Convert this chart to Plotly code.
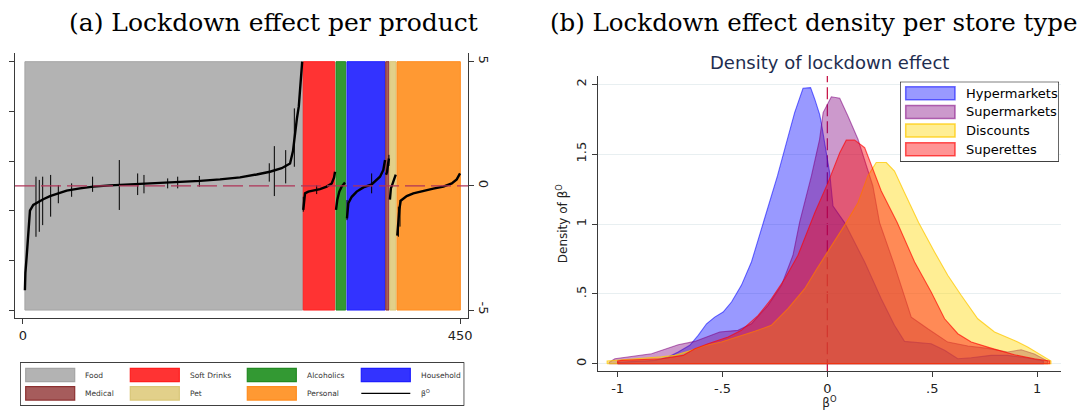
import plotly.graph_objects as go

# page body has an 8px margin: the figure is sized to the visible area and
# reference pixel positions are mapped with that offset
OFF = 8
W, H = 1089 - OFF, 410 - OFF

# ---------------- Panel (a): lockdown effect per product ----------------
categories = ["Food", "Soft Drinks", "Alcoholics", "Household", "Medical", "Pet", "Personal"]
cat_start = [2.0, 288.6, 322.3, 333.6, 373.5, 377.6, 385.1]
cat_end = [288.0, 321.0, 332.3, 372.8, 376.9, 384.1, 450.3]
cat_fill = ["#b3b3b3", "#ff3333", "#339933", "#3333ff", "#a65c5c", "#e2d08a", "#ff9933"]
cat_edge = ["#a4a4a4", "#ff1f1f", "#238a23", "#1f1fff", "#8c3030", "#d9c677", "#ff8c1f"]

food_idx = [2, 2.5, 3.8, 5.5, 7.2, 10.6, 15.8, 20.9, 27.8, 36.4, 45, 58.7, 72.4, 89.6, 113.6,
            137.7, 161.7, 182.3, 202.9, 223.5, 240.6, 254.3, 266.4, 275, 278, 280, 282, 284, 286, 287.5]
food_val = [-4.2, -3.5, -2.85, -1.9, -1.0, -0.77, -0.64, -0.54, -0.41, -0.3, -0.19, -0.1, -0.03, 0.02, 0.06,
            0.1, 0.14, 0.2, 0.26, 0.34, 0.46, 0.57, 0.71, 0.9, 1.4, 2.1, 2.7, 3.2, 4.2, 5.0]
soft_idx = [288.6, 290.4, 293.8, 299, 305.8, 312.7, 317.9, 320.3, 321.3]
soft_val = [-0.97, -0.3, -0.23, -0.19, -0.13, -0.03, 0.1, 0.34, 0.57]
alc_idx = [322.3, 323.6, 325.7, 328.1, 331.6]
alc_val = [-0.97, -0.57, -0.23, -0.03, 0.14]
house_idx = [333.6, 335, 338.5, 343.6, 350.5, 359, 367.6, 371, 372.8]
house_val = [-1.31, -0.7, -0.44, -0.23, -0.06, 0.06, 0.37, 0.64, 1.04]
med_idx = [373.8, 374.8, 375.8, 376.8]
med_val = [0.45, 0.55, 0.85, 1.1]
pet_idx = [377.8, 378.8, 379.8, 380.8, 381.8, 382.8, 383.8]
pet_val = [-0.55, -0.1, 0.0, 0.1, 0.2, 0.3, 0.45]
pers_idx = [385.4, 386.5, 387.5, 388.9, 391.6, 395.1, 401.9, 412.2, 422.5, 432.8, 441.5, 446.6, 450]
pers_val = [-2.0, -1.3, -0.95, -0.6, -0.5, -0.41, -0.3, -0.19, -0.11, -0.03, 0.1, 0.26, 0.5]

# confidence-interval spikes (product index, low, high)
ci_idx = [13.4, 16.8, 20.3, 28.5, 36.4, 50.1, 71.7, 99.2, 118.1, 124.6, 149, 159.3, 181.6,
          253.6, 258.8, 270.5, 279.4, 288.6, 302.4, 333.6, 359, 376.8, 386.5, 388.2]
ci_lo = [-2.05, -1.85, -1.58, -1.24, -0.7, -0.44, -0.24, -0.97, -0.37, -0.3, -0.1, -0.1, -0.03,
         0.17, -0.41, 0.1, 0.77, -1.04, -0.33, -1.38, -0.3, 0.8, -2.05, -1.64]
ci_hi = [0.37, 0.24, 0.37, 0.44, 0.03, 0.1, 0.37, 1.04, 0.5, 0.44, 0.3, 0.37, 0.4,
         0.91, 1.6, 1.44, 3.12, -0.44, 0.03, -0.57, 0.5, 1.25, -0.84, -0.57]

# ---------------- Panel (b): density per store type ----------------
store_types = ["Hypermarkets", "Supermarkets", "Discounts", "Superettes"]
hyper_x = [-1.0, -0.822, -0.759, -0.711, -0.656, -0.616, -0.576, -0.537, -0.497, -0.457, -0.41, -0.362,
           -0.307, -0.283, -0.238, -0.195, -0.156, -0.116, -0.08, -0.06, -0.037, -0.029, 0.011, 0.027,
           0.082, 0.178, 0.257, 0.32, 0.368, 0.495, 0.559, 0.622, 0.686, 0.78, 0.86, 0.955, 1.03]
hyper_y = [0.01, 0.024, 0.048, 0.084, 0.132, 0.203, 0.286, 0.334, 0.37, 0.442, 0.561, 0.728,
           1.0, 1.105, 1.344, 1.582, 1.797, 1.971, 1.976, 1.893, 1.785, 1.725, 1.367, 1.129,
           1.01, 0.728, 0.465, 0.275, 0.16, 0.143, 0.096, 0.036, 0.043, 0.06, 0.06, 0.041, 0.02]
super_x = [-1.04, -1.013, -0.838, -0.711, -0.632, -0.513, -0.426, -0.362, -0.283, -0.219, -0.164, -0.132,
           -0.116, -0.076, -0.037, -0.02, 0.019, 0.059, 0.098, 0.146, 0.217, 0.249, 0.32, 0.4, 0.479,
           0.574, 0.67, 0.765, 0.86, 0.924, 0.987, 1.05]
super_y = [0.01, 0.036, 0.072, 0.136, 0.16, 0.227, 0.239, 0.286, 0.418, 0.561, 0.776, 1.014,
           1.105, 1.344, 1.606, 1.797, 1.91, 1.90, 1.773, 1.606, 1.272, 1.01, 0.704, 0.334, 0.25,
           0.155, 0.127, 0.11, 0.084, 0.1, 0.07, 0.02]
disc_x = [-1.05, -0.79, -0.727, -0.648, -0.584, -0.505, -0.426, -0.346, -0.267, -0.188, -0.108, -0.05,
          0.09, 0.146, 0.193, 0.233, 0.281, 0.32, 0.368, 0.435, 0.511, 0.574, 0.638, 0.717, 0.797,
          0.892, 0.955, 1.011, 1.066]
disc_y = [0.02, 0.05, 0.06, 0.096, 0.131, 0.155, 0.191, 0.232, 0.275, 0.394, 0.537, 0.68,
          1.01, 1.152, 1.344, 1.44, 1.44, 1.379, 1.224, 1.01, 0.8, 0.633, 0.49, 0.322, 0.227,
          0.167, 0.12, 0.072, 0.02]
supt_x = [-1.0, -0.98, -0.79, -0.688, -0.632, -0.569, -0.473, -0.41, -0.33, -0.267, -0.203, -0.14,
          -0.076, -0.06, 0.003, 0.059, 0.09, 0.13, 0.178, 0.2, 0.257, 0.333, 0.416, 0.495, 0.559,
          0.622, 0.686, 0.78, 0.892, 0.987, 1.06]
supt_y = [0.02, 0.024, 0.036, 0.06, 0.107, 0.143, 0.191, 0.239, 0.346, 0.465, 0.608, 0.776,
          1.014, 1.08, 1.296, 1.51, 1.6, 1.6, 1.546, 1.463, 1.236, 1.01, 0.728, 0.513, 0.322,
          0.215, 0.155, 0.112, 0.064, 0.036, 0.02]
store_fill = ["rgba(0,0,255,0.40)", "rgba(128,0,128,0.40)", "rgba(255,215,0,0.42)", "rgba(255,0,0,0.42)"]
store_line = ["rgba(0,0,255,0.55)", "rgba(128,0,128,0.55)", "rgba(255,200,0,0.75)", "rgba(255,0,0,0.65)"]

# ---------------- helpers ----------------
def fx(px):
    return (px - OFF) / W


def fy(py):
    return (H - (py - OFF)) / H


AX = "#3a3a3a"
fig = go.Figure()

# ---- panel (a) bands
band_lo, band_hi = -5, 5
fig.add_trace(go.Bar(
    x=[(s + e) / 2 for s, e in zip(cat_start, cat_end)],
    y=[band_hi - band_lo] * len(categories),
    base=[band_lo] * len(categories),
    width=[e - s for s, e in zip(cat_start, cat_end)],
    marker=dict(color=cat_fill, line=dict(color=cat_edge, width=1)),
    xaxis="x", yaxis="y", hoverinfo="skip", showlegend=False))

# ---- CI spikes (drawn on the right-hand value axis, same range)
sx, sy = [], []
for i, lo, hi in zip(ci_idx, ci_lo, ci_hi):
    sx += [i, i, None]
    sy += [lo, hi, None]
fig.add_trace(go.Scatter(x=sx, y=sy, mode="lines", line=dict(color="black", width=1),
                         xaxis="x", yaxis="y3", hoverinfo="skip", showlegend=False))

# ---- beta line (per category segments)
lx, ly = [], []
for xs, ys in [(food_idx, food_val), (soft_idx, soft_val), (alc_idx, alc_val), (house_idx, house_val),
               (med_idx, med_val), (pet_idx, pet_val), (pers_idx, pers_val)]:
    lx += xs + [None]
    ly += ys + [None]
fig.add_trace(go.Scatter(x=lx, y=ly, mode="lines", line=dict(color="black", width=2.4),
                         connectgaps=False, xaxis="x", yaxis="y3", hoverinfo="skip", showlegend=False))

# ---- panel (b) densities
for name, xs, ys, fc, lc in zip(store_types, [hyper_x, super_x, disc_x, supt_x],
                                [hyper_y, super_y, disc_y, supt_y], store_fill, store_line):
    px_ = [xs[0]] + xs + [xs[-1], xs[0]]
    py_ = [0] + ys + [0, 0]
    fig.add_trace(go.Scatter(x=px_, y=py_, mode="lines", fill="toself", fillcolor=fc,
                             line=dict(color=lc, width=1.1), name=name,
                             xaxis="x2", yaxis="y2", hoverinfo="skip", showlegend=False))

# ---- legend for panel (a) (subplot x4/y4)
L4 = dict(left=20, right=464.3, top=362.3, bottom=405.7)
W4, H4 = L4["right"] - L4["left"], L4["bottom"] - L4["top"]
col_sw = [5.7, 110.3, 227.3, 341.3]
col_tx = [63, 167.7, 285, 399]
row_top = [6.0, 24.4]
sw_w, sw_h = 49, 13.4
fig.add_trace(go.Scatter(x=[0, W4, W4, 0, 0], y=[0, 0, H4, H4, 0], mode="lines",
                         line=dict(color="black", width=1.3), xaxis="x4", yaxis="y4",
                         hoverinfo="skip", showlegend=False))
leg_x = [col_sw[k % 4] + sw_w / 2 for k in range(len(categories))]
leg_b = [row_top[k // 4] for k in range(len(categories))]
fig.add_trace(go.Bar(x=leg_x, y=[sw_h] * len(categories), base=leg_b, width=sw_w,
                     marker=dict(color=cat_fill, line=dict(color=cat_edge, width=1.2)),
                     xaxis="x4", yaxis="y4", hoverinfo="skip", showlegend=False))
fig.add_trace(go.Scatter(x=[col_sw[3], col_sw[3] + sw_w], y=[row_top[1] + sw_h / 2] * 2, mode="lines",
                         line=dict(color="black", width=1.2), xaxis="x4", yaxis="y4",
                         hoverinfo="skip", showlegend=False))
annotations = []
leg_labels = categories + ["β<sup>O</sup>"]
for k, lab in enumerate(leg_labels):
    annotations.append(dict(x=col_tx[k % 4], y=row_top[k // 4] + sw_h / 2, xref="x4", yref="y4",
                            text=lab, showarrow=False, xanchor="left", yanchor="middle",
                            font=dict(size=7.5, color="#333333", family="DejaVu Sans")))

# ---- legend for panel (b) (subplot x5/y5)
L5 = dict(left=900, right=1059, top=81.7, bottom=161.7)
W5, H5 = L5["right"] - L5["left"], L5["bottom"] - L5["top"]
row_c5 = [11.6, 30.2, 48.8, 67.6]
sw5_x, sw5_w, sw5_h, tx5 = 5.7, 49.3, 13, 64
fig.add_trace(go.Bar(x=[W5 / 2], y=[H5], base=[0], width=[W5],
                     marker=dict(color="white", line=dict(color="black", width=1.2)),
                     xaxis="x5", yaxis="y5", hoverinfo="skip", showlegend=False))
fig.add_trace(go.Bar(x=[sw5_x + sw5_w / 2] * 4, y=[sw5_h] * 4, base=[c - sw5_h / 2 for c in row_c5],
                     width=sw5_w, marker=dict(color=store_fill, line=dict(color=store_line, width=1.5)),
                     xaxis="x5", yaxis="y5", hoverinfo="skip", showlegend=False))
for k, lab in enumerate(store_types):
    annotations.append(dict(x=tx5, y=row_c5[k], xref="x5", yref="y5", text=lab, showarrow=False,
                            xanchor="left", yanchor="middle",
                            font=dict(size=13, color="black", family="DejaVu Sans")))

# ---- titles
annotations += [
    dict(x=fx(273), y=fy(23), xref="paper", yref="paper", text="(a) Lockdown effect per product",
         showarrow=False, xanchor="center", yanchor="middle",
         font=dict(family="DejaVu Serif", size=25, color="black")),
    dict(x=fx(813), y=fy(23), xref="paper", yref="paper", text="(b) Lockdown effect density per store type",
         showarrow=False, xanchor="center", yanchor="middle",
         font=dict(family="DejaVu Serif", size=24.5, color="black")),
    dict(x=fx(829), y=fy(63), xref="paper", yref="paper", text="Density of lockdown effect",
         showarrow=False, xanchor="center", yanchor="middle",
         font=dict(family="DejaVu Sans", size=18, color="#1e2d4f")),
]

shapes = [
    dict(type="line", xref="x domain", yref="y", x0=0, x1=1, y0=0, y1=0,
         line=dict(color="#b03458", width=1.3, dash="20px,6px"), layer="above"),
    dict(type="line", xref="x2", yref="y2", x0=0, x1=0, y0=-0.054, y1=2.059,
         line=dict(color="#c8194b", width=1.3, dash="12px,5px"), layer="below"),
]

tickfont = dict(family="DejaVu Sans", size=13, color="#222222")
common = dict(showline=True, linecolor=AX, linewidth=1.3, ticks="outside", ticklen=5,
              tickcolor=AX, tickwidth=1.2, zeroline=False, tickfont=tickfont)

yr_a = [-5.32, 5.35]
fig.update_layout(
    width=W, height=H, margin=dict(l=0, r=0, t=0, b=0, autoexpand=False),
    paper_bgcolor="white", plot_bgcolor="white", showlegend=False, hovermode=False,
    font=dict(family="DejaVu Sans"), barmode="overlay",
    xaxis=dict(domain=[fx(15), fx(468)], range=[-8.2, 458.2], anchor="y", tickvals=[0, 450],
               showgrid=False, **common),
    yaxis=dict(domain=[fy(318), fy(53)], range=yr_a, anchor="x",
               tickvals=[-5, -3, -1, 1, 3, 5], showticklabels=False, showgrid=False, **common),
    yaxis3=dict(overlaying="y", side="right", anchor="x", range=yr_a,
                tickvals=[-5, 0, 5], ticktext=["-5", "0", "5"], tickangle=90, showgrid=False, **common),
    xaxis2=dict(domain=[fx(597.7), fx(1061)], range=[-1.095, 1.114], anchor="y2",
                tickvals=[-1, -0.5, 0, 0.5, 1], ticktext=["-1", "-.5", "0", ".5", "1"], showgrid=False,
                title=dict(text="β<sup>O</sup>", font=dict(size=12, color="#222222"), standoff=2), **common),
    yaxis2=dict(domain=[fy(371.3), fy(76)], range=[-0.054, 2.059], anchor="x2",
                tickvals=[0, 0.5, 1, 1.5, 2], ticktext=["0", ".5", "1", "1.5", "2"], tickangle=-90,
                showgrid=True, gridcolor="#e8eff1", gridwidth=1,
                title=dict(text="Density of β<sup>O</sup>", font=dict(size=12, color="#222222"), standoff=4),
                **common),
    xaxis4=dict(domain=[fx(L4["left"]), fx(L4["right"])], range=[0, W4], anchor="y4", visible=False),
    yaxis4=dict(domain=[fy(L4["bottom"]), fy(L4["top"])], range=[H4, 0], anchor="x4", visible=False),
    xaxis5=dict(domain=[fx(L5["left"]), fx(L5["right"])], range=[0, W5], anchor="y5", visible=False),
    yaxis5=dict(domain=[fy(L5["bottom"]), fy(L5["top"])], range=[H5, 0], anchor="x5", visible=False),
    annotations=annotations, shapes=shapes,
)

fig.write_html("out.html")
